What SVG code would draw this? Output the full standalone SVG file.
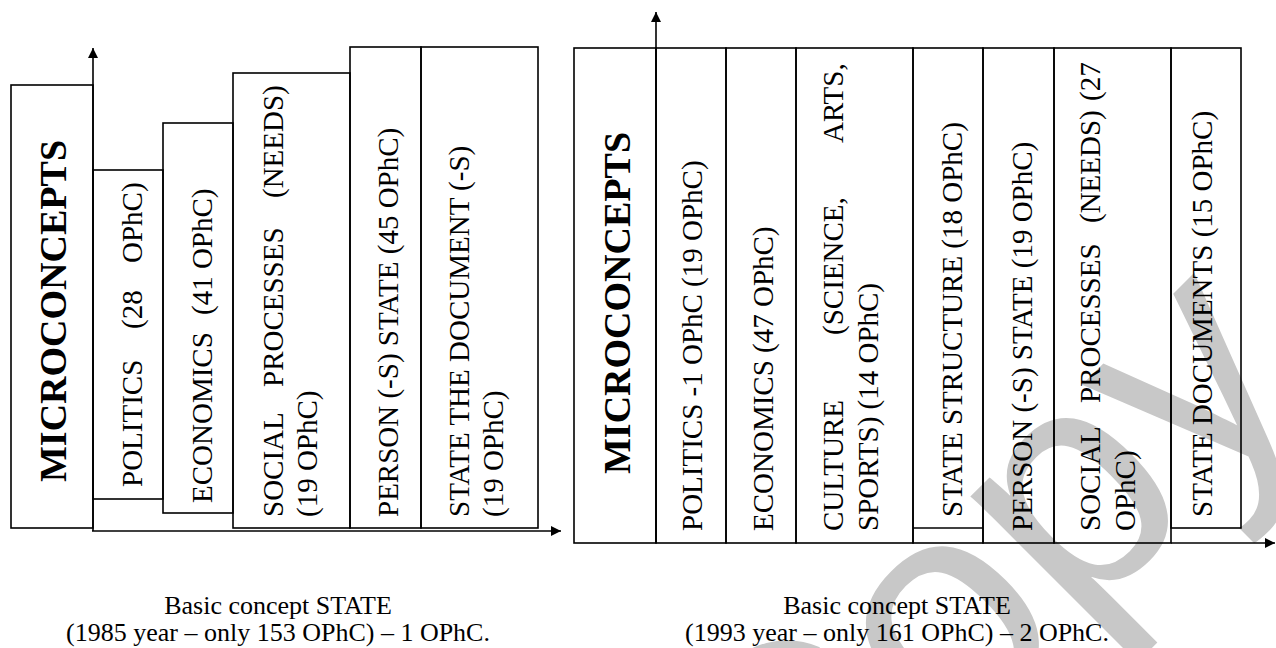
<svg xmlns="http://www.w3.org/2000/svg" width="1276" height="648" viewBox="0 0 1276 648">
<style>
.bx{fill:none;stroke:#000;stroke-width:1.6}
.ln{fill:none;stroke:#000;stroke-width:1.6}
.ax{fill:none;stroke:#000;stroke-width:1.6}
.t{font-family:"Liberation Serif","Times New Roman",serif;font-size:29px;fill:#000}
.b{font-family:"Liberation Serif","Times New Roman",serif;font-size:38px;font-weight:bold;fill:#000}
.c{font-family:"Liberation Serif","Times New Roman",serif;font-size:26px;fill:#000;text-anchor:middle}
.wm{font-family:"Liberation Sans",Arial,sans-serif;font-size:320px;fill:#c8c8c8}
</style>
<defs>
<marker id="ah" viewBox="0 0 10 10" refX="10" refY="5" markerWidth="10" markerHeight="10" markerUnits="userSpaceOnUse" orient="auto">
<path d="M0,0 L10,5 L0,10 Z" fill="#000"/>
</marker>
</defs>
<rect width="1276" height="648" fill="#fff"/>
<text class="wm" transform="translate(786,920) rotate(-45)">Copy</text>

<g id="left-diagram">
<g id="l-micro"><rect class="bx" x="11" y="85" width="82" height="443"/>
<text class="b" transform="translate(66,482) rotate(-90)">MICROCONCEPTS</text></g>
<g id="l-politics"><rect class="bx" x="93" y="170" width="70" height="329"/>
<text class="t" transform="translate(142,487) rotate(-90)"><tspan x="0">POLITICS</tspan><tspan x="158">(28</tspan><tspan x="224">OPhC)</tspan></text></g>
<g id="l-economics"><rect class="bx" x="163" y="123" width="70" height="390"/>
<text class="t" transform="translate(212,503) rotate(-90)"><tspan x="0">ECONOMICS</tspan><tspan x="188">(41 OPhC)</tspan></text></g>
<g id="l-social"><rect class="bx" x="233" y="73" width="117" height="455"/>
<text class="t" transform="translate(283,517) rotate(-90)"><tspan x="0">SOCIAL</tspan><tspan x="130">PROCESSES</tspan><tspan x="319">(NEEDS)</tspan></text>
<text class="t" transform="translate(317,517) rotate(-90)">(19 OPhC)</text></g>
<g id="l-person"><rect class="bx" x="350" y="47" width="71" height="481"/>
<text class="t" transform="translate(398,517) rotate(-90)">PERSON (-S) STATE (45 OPhC)</text></g>
<g id="l-document"><rect class="bx" x="421" y="47" width="117" height="481"/>
<text class="t" transform="translate(469,517) rotate(-90)">STATE THE DOCUMENT (-S)</text>
<text class="t" transform="translate(503,517) rotate(-90)">(19 OPhC)</text></g>
</g>

<g id="right-diagram">
<g id="r-micro"><rect class="bx" x="574" y="48" width="82" height="495"/>
<text class="b" transform="translate(630,474) rotate(-90)">MICROCONCEPTS</text></g>
<g id="r-politics"><rect class="bx" x="656" y="48" width="70" height="495"/>
<text class="t" transform="translate(702,531) rotate(-90)">POLITICS -1 OPhC (19 OPhC)</text></g>
<g id="r-economics"><rect class="bx" x="726" y="48" width="70" height="495"/>
<text class="t" transform="translate(773,531) rotate(-90)">ECONOMICS (47 OPhC)</text></g>
<g id="r-culture"><rect class="bx" x="796" y="48" width="117" height="495"/>
<text class="t" transform="translate(843,531) rotate(-90)"><tspan x="0">CULTURE</tspan><tspan x="196">(SCIENCE,</tspan><tspan x="388">ARTS,</tspan></text>
<text class="t" transform="translate(878,531) rotate(-90)">SPORTS) (14 OPhC)</text></g>
<g id="r-structure"><rect class="bx" x="913" y="48" width="70" height="495"/>
<line class="ln" x1="913" y1="528" x2="983" y2="528"/>
<text class="t" transform="translate(962,517) rotate(-90)">STATE STRUCTURE (18 OPhC)</text></g>
<g id="r-person"><rect class="bx" x="983" y="48" width="71" height="495"/>
<text class="t" transform="translate(1032,531) rotate(-90)">PERSON (-S) STATE (19 OPhC)</text></g>
<g id="r-social"><rect class="bx" x="1054" y="48" width="117" height="495"/>
<text class="t" transform="translate(1100,531) rotate(-90)"><tspan x="0">SOCIAL</tspan><tspan x="128">PROCESSES</tspan><tspan x="308">(NEEDS)</tspan><tspan x="430">(27</tspan></text>
<text class="t" transform="translate(1135,531) rotate(-90)">OPhC)</text></g>
<g id="r-documents"><rect class="bx" x="1171" y="48" width="70" height="480"/>
<text class="t" transform="translate(1212,517) rotate(-90)">STATE DOCUMENTS (15 OPhC)</text></g>
</g>

<g id="connectors">
<line class="ax" x1="93" y1="531" x2="93" y2="48" marker-end="url(#ah)"/>
<line class="ax" x1="92" y1="531" x2="561" y2="531" marker-end="url(#ah)"/>
<line class="ax" x1="656" y1="543" x2="656" y2="12" marker-end="url(#ah)"/>
<line class="ax" x1="1171" y1="543" x2="1275" y2="543" marker-end="url(#ah)"/>
</g>

<g id="captions">
<text class="c" x="278" y="614">Basic concept STATE</text>
<text class="c" x="278" y="641">(1985 year – only 153 OPhC) – 1 OPhC.</text>
<text class="c" x="897" y="614">Basic concept STATE</text>
<text class="c" x="897" y="641">(1993 year – only 161 OPhC) – 2 OPhC.</text>
</g>
</svg>
